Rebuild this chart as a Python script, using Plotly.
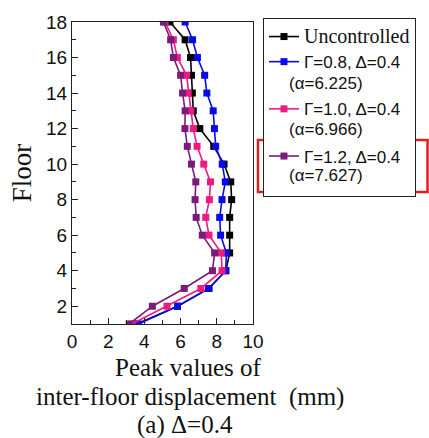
import plotly.graph_objects as go

floors = list(range(1, 19))
uncontrolled = [3.58, 5.83, 7.55, 8.50, 8.71, 8.71, 8.71, 8.82, 8.77, 8.40, 7.83, 7.06, 6.70, 6.65, 6.60, 6.55, 6.25, 5.41]
g08 = [3.67, 5.83, 7.57, 8.49, 8.53, 8.21, 8.16, 8.29, 8.47, 8.30, 7.94, 7.87, 7.80, 7.45, 7.33, 6.93, 6.66, 6.25]
g10 = [3.31, 5.25, 7.12, 8.29, 8.25, 7.57, 7.39, 7.59, 7.65, 7.28, 6.91, 6.70, 6.57, 6.42, 6.33, 5.82, 5.60, 5.14]
g12 = [3.16, 4.44, 6.20, 7.76, 7.88, 7.20, 6.86, 6.80, 6.84, 6.60, 6.37, 6.24, 6.25, 6.11, 6.00, 5.60, 5.45, 5.05]

legend_main = ["Uncontrolled", "Γ=0.8, Δ=0.4", "Γ=1.0, Δ=0.4", "Γ=1.2, Δ=0.4"]
legend_alpha = [None, "(α=6.225)", "(α=6.966)", "(α=7.627)"]

SANS = "Liberation Sans, Arial"
SERIF = "Liberation Serif, Times New Roman"

series = [uncontrolled, g08, g10, g12]
colors = ["#000000", "#0a0ae6", "#ee1a84", "#7a1a7a"]

fig = go.Figure()
for i, (label, vals, c) in enumerate(zip(legend_main, series, colors)):
    if i == 0:
        name = f'<span style="font-family:{SERIF};font-size:20px">{label}</span>'
    else:
        name = label + "<br>\u00a0"
    fig.add_trace(go.Scatter(
        x=vals, y=floors, mode="lines+markers", name=name,
        line=dict(color=c, width=1.6),
        marker=dict(symbol="square", size=7, color=c),
    ))

W, H = 429, 438
L, R, T, B = 71.5, 429 - 253, 22, 438 - 324
pw, ph = W - L - R, H - T - B

def px2x(px):
    return (px - L) / pw

def py2y(py):
    return (H - B - py) / ph

annotations = [
    dict(text="Peak values of", xref="paper", yref="paper", x=px2x(188), y=0,
         xanchor="center", yanchor="middle", yshift=-43, showarrow=False,
         font=dict(family=SERIF, size=25, color="#111")),
    dict(text="inter-floor displacement  (mm)", xref="paper", yref="paper", x=px2x(190), y=0,
         xanchor="center", yanchor="middle", yshift=-73, showarrow=False,
         font=dict(family=SERIF, size=25, color="#111")),
    dict(text="(a) Δ=0.4", xref="paper", yref="paper", x=px2x(185), y=0,
         xanchor="center", yanchor="middle", yshift=-101, showarrow=False,
         font=dict(family=SERIF, size=25, color="#111")),
]
alpha_y = [None, 83, 129, 175]
for txt, yy in zip(legend_alpha, alpha_y):
    if txt is None:
        continue
    annotations.append(dict(
        text=txt, xref="paper", yref="paper", x=px2x(287), y=py2y(yy),
        xanchor="left", yanchor="middle", showarrow=False,
        font=dict(family=SANS, size=17, color="#111")))

fig.update_layout(
    width=W, height=H,
    margin=dict(l=L, r=R, t=T, b=B),
    plot_bgcolor="white", paper_bgcolor="white",
    showlegend=True,
    legend=dict(
        x=px2x(263), y=py2y(18), xanchor="left", yanchor="top",
        bordercolor="#222", borderwidth=1,
        font=dict(family=SANS, size=17, color="#111"),
        valign="top", tracegroupgap=0, itemwidth=30,
    ),
    xaxis=dict(
        range=[0, 10], tickvals=[0, 2, 4, 6, 8, 10],
        ticks="inside", ticklen=6, tickwidth=1, tickcolor="#222",
        minor=dict(dtick=1, ticks="inside", ticklen=4, tickcolor="#222"),
        showline=True, linecolor="#222", linewidth=1, mirror=True,
        showgrid=False, zeroline=False,
        tickfont=dict(family=SANS, size=19, color="#111"),
    ),
    yaxis=dict(
        range=[1, 18], tickvals=[2, 4, 6, 8, 10, 12, 14, 16, 18],
        ticks="inside", ticklen=6, tickwidth=1, tickcolor="#222",
        minor=dict(dtick=1, tick0=1, ticks="inside", ticklen=4, tickcolor="#222"),
        showline=True, linecolor="#222", linewidth=1, mirror=True,
        showgrid=False, zeroline=False,
        tickfont=dict(family=SANS, size=19, color="#111"),
        title=dict(text="Floor", font=dict(family=SERIF, size=27, color="#111"), standoff=6),
    ),
    annotations=annotations,
    shapes=[
        dict(type="rect", xref="paper", yref="paper",
             x0=px2x(258), x1=px2x(428), y0=py2y(192), y1=py2y(140),
             line=dict(color="#e02020", width=2.5)),
    ],
)

fig.write_html("out.html")
